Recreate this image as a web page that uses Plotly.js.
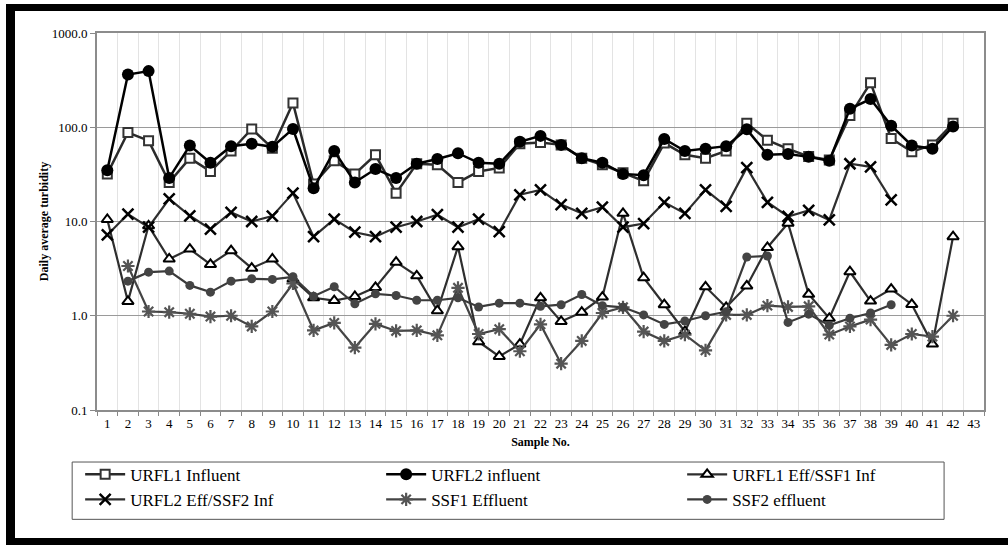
<!DOCTYPE html>
<html>
<head>
<meta charset="utf-8">
<script src="https://cdn.plot.ly/plotly-3.0.1.min.js"></script>
<style>
  html, body { margin: 0; padding: 0; background: #fff; }
  #wrap { position: relative; width: 1008px; height: 545px; overflow: hidden; }
  #frame {
    position: absolute; left: 6px; top: 4px; width: 1020px; height: 527px;
    border-left: 9px solid #000; border-top: 7px solid #000; border-bottom: 7px solid #000;
    pointer-events: none;
  }
  #chart { position: absolute; left: 0; top: 0; width: 1008px; height: 545px; }
  #chart text { font-family: 'Liberation Serif', 'Times New Roman', 'DejaVu Serif', serif !important; }
</style>
</head>
<body>
<div id="wrap">
  <div id="frame"></div>
  <div id="chart"></div>
</div>
<script>
// Sample numbers on the category axis
const samples = Array.from({length: 43}, (_, i) => String(i + 1));

// Daily average turbidity per sample (null = no reading)
const urfl1Influent = [32, 88, 72, 26, 47, 34, 56, 96, 60, 181, 25, 44, 32, 51, 20, 41, 40, 26, 34, 37,
  67, 69, 65, 47, 40, 33, 27, 68, 51, 47, 56, 110, 73, 59, 49, 45, 133, 296, 76, 55, 65, 110, null];
const urfl2Influent = [35, 363, 394, 29, 64, 42, 63, 67, 62, 96, 22.5, 56, 26, 36, 29, 41, 46, 53, 42, 41,
  70, 81, 65, 47, 42, 32, 31, 75, 56, 59, 63, 95, 51, 52, 48.5, 44, 157, 199, 104, 64, 59, 102, null];
const urfl1EffSsf1Inf = [10.5, 1.42, 9.0, 4.0, 5.1, 3.5, 4.9, 3.2, 4.0, 2.45, 1.55, 1.45, 1.6, 2.0, 3.7, 2.65,
  1.13, 5.4, 0.53, 0.37, 0.5, 1.55, 0.87, 1.09, 1.58, 12.2, 2.53, 1.31, 0.68, 2.03, 1.23, 2.07, 5.3, 9.6,
  1.69, 0.94, 2.93, 1.43, 1.92, 1.32, 0.5, 6.9, null];
const urfl2EffSsf2Inf = [7.2, 12, 8.7, 17.4, 11.5, 8.3, 12.5, 10, 11.4, 20, 6.9, 10.6, 7.7, 6.9, 8.7, 10,
  11.8, 8.7, 10.6, 7.8, 19.2, 21.6, 15.1, 12.2, 14.2, 8.7, 9.5, 16, 12.2, 21.7, 14.5, 37.3, 16, 11.3,
  13.1, 10.4, 41, 38, 17, null, null, null, null];
const ssf1Effluent = [null, 3.37, 1.11, 1.09, 1.05, 0.98, 1.0, 0.77, 1.11, 2.2, 0.70, 0.84, 0.46, 0.82, 0.69,
  0.70, 0.62, 1.98, 0.64, 0.72, 0.42, 0.81, 0.31, 0.54, 1.07, 1.23, 0.68, 0.54, 0.63, 0.43, 1.02, 1.02,
  1.28, 1.24, 1.26, 0.63, 0.77, 0.91, 0.49, 0.64, 0.60, 1.0, null];
const ssf2Effluent = [null, 2.33, 2.9, 2.98, 2.1, 1.78, 2.33, 2.47, 2.43, 2.59, 1.61, 2.03, 1.34, 1.71, 1.64,
  1.46, 1.46, 1.55, 1.24, 1.36, 1.36, 1.26, 1.31, 1.68, 1.28, 1.23, 1.02, 0.81, 0.88, 1.0, 1.1, 4.2, 4.3,
  0.85, 1.04, 0.79, 0.94, 1.07, 1.31, null, null, null, null];

// Y axis decade labels
const yTickVals = [0.1, 1, 10, 100, 1000];
const yTickText = ['0.1', '1.0', '10.0', '100.0', '1000.0'];

const serif = 'Liberation Serif';

function series(name, y, lineColor, lineWidth, marker) {
  return {
    type: 'scatter', mode: 'lines+markers', name: name,
    x: samples, y: y, connectgaps: false,
    line: {color: lineColor, width: lineWidth},
    marker: marker
  };
}

const traces = [
  series('URFL1 Influent', urfl1Influent, '#2a2a2a', 2.5,
    {symbol: 'square', size: 9, color: '#ffffff', line: {color: '#333333', width: 2}}),
  series('URFL2 influent', urfl2Influent, '#000000', 2.5,
    {symbol: 'circle', size: 12, color: '#000000', line: {color: '#000000', width: 0}}),
  series('URFL1 Eff/SSF1 Inf', urfl1EffSsf1Inf, '#2e2e2e', 2.2,
    {symbol: 'triangle-up', size: 10, color: '#ffffff', line: {color: '#000000', width: 2}}),
  series('URFL2 Eff/SSF2 Inf', urfl2EffSsf2Inf, '#2e2e2e', 2.2,
    {symbol: 'x-thin-open', size: 11, color: '#000000', line: {color: '#000000', width: 2.5}}),
  series('SSF1 Effluent', ssf1Effluent, '#444444', 2.2,
    {symbol: 'asterisk-open', size: 11, color: '#555555', line: {color: '#555555', width: 2.2}}),
  series('SSF2 effluent', ssf2Effluent, '#3a3a3a', 2.2,
    {symbol: 'circle', size: 9, color: '#444444', line: {width: 0}})
];

// Legend frame, in paper coordinates relative to the plot area
const legendFrame = {
  type: 'rect', xref: 'paper', yref: 'paper', layer: 'below',
  x0: -0.028, x1: 0.955, y0: -0.29, y1: -0.138,
  line: {color: '#555555', width: 1}, fillcolor: 'rgba(0,0,0,0)'
};

const layout = {
  width: 1008, height: 545,
  margin: {l: 97, r: 24, t: 33, b: 135},
  paper_bgcolor: 'rgba(0,0,0,0)',
  plot_bgcolor: '#ffffff',
  font: {family: serif, color: '#000', size: 12},
  showlegend: true,
  shapes: [legendFrame],
  xaxis: {
    type: 'category', range: [-0.5, 42.5], tickson: 'boundaries',
    ticks: 'outside', ticklen: 4, tickcolor: '#888', tickangle: 0,
    showgrid: true, gridcolor: '#e3e3e3', gridwidth: 1,
    showline: true, linecolor: '#8c8c8c', linewidth: 2, mirror: true,
    tickfont: {family: serif, size: 13, color: '#000'},
    title: {text: '<b>Sample No.</b>', font: {family: serif, size: 12, color: '#000'}, standoff: 8},
    zeroline: false, fixedrange: true
  },
  yaxis: {
    type: 'log', range: [-1, 3],
    tickvals: yTickVals, ticktext: yTickText,
    ticks: 'outside', ticklen: 5, tickcolor: '#888',
    showgrid: true, gridcolor: '#9a9a9a', gridwidth: 1.2,
    showline: true, linecolor: '#8c8c8c', linewidth: 2, mirror: true,
    tickfont: {family: serif, size: 13, color: '#000'},
    title: {text: '<b>Daily average turbidity</b>', font: {family: serif, size: 12, color: '#000'}, standoff: 0},
    zeroline: false, fixedrange: true
  },
  legend: {
    orientation: 'h', x: -0.019, y: -0.124, xanchor: 'left', yanchor: 'top',
    borderwidth: 0, bgcolor: 'rgba(0,0,0,0)',
    font: {family: serif, size: 17, color: '#000'},
    entrywidth: 246, entrywidthmode: 'pixels',
    itemwidth: 40, tracegroupgap: 0
  }
};

Plotly.newPlot('chart', traces, layout, {staticPlot: true, displayModeBar: false});
</script>
</body>
</html>
